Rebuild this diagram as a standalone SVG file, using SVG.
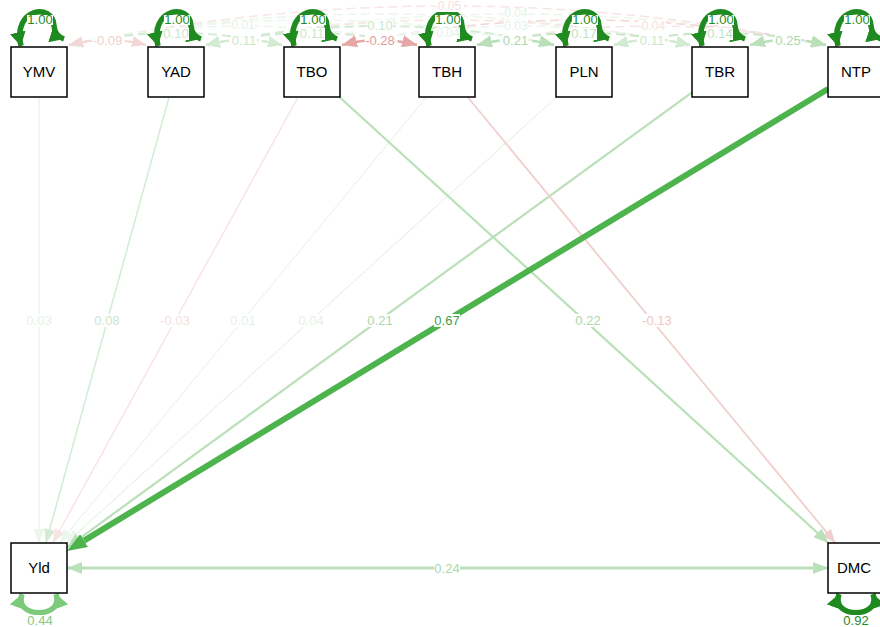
<svg xmlns="http://www.w3.org/2000/svg" width="880" height="627" viewBox="0 0 880 627">
  <style>
    .box{fill:#fff;stroke:#000;stroke-width:1.5}
    .nl{font-family:"Liberation Sans",Arial,sans-serif;font-size:15px;text-anchor:middle;fill:#000}
    .el{font-family:"Liberation Sans",Arial,sans-serif;font-size:13px;text-anchor:middle}
    .sm{font-size:12px}
    .bg{fill:#fff}
    .cov{fill:none;stroke-dasharray:9 5}
    .dir{fill:none}
    .loop{fill:none;stroke-width:5.5}
    .s-dk{stroke:#1f8a1f}.t-dk{fill:#1f8a1f}
    .s-g67{stroke:#4db34d}.t-g67{fill:#3f9f3f}
    .s-g44{stroke:#7dca7d}.t-g44{fill:#86c986}
    .s-g2{stroke:#b9e0b9}.t-g2{fill:#abd7ab}
    .s-g15{stroke:#c6e6c6}.t-g15{fill:#bfe1bf}
    .s-g1{stroke:#d2ebd2}.t-g1{fill:#cbe7cb}
    .s-g0{stroke:#ecf6ec}.t-g0{fill:#e6f2e6}
    .s-r28{stroke:#e8a6a6}.t-r28{fill:#e39c9c}
    .s-r13{stroke:#f1cfcf}.t-r13{fill:#eec6c6}
    .s-r9{stroke:#f3d6d6}.t-r9{fill:#f1d0d0}
    .s-r0{stroke:#f7e4e4}.t-r0{fill:#f5e0e0}
  </style>
  <defs>
    <marker id="a-dk" markerUnits="userSpaceOnUse" markerWidth="14" markerHeight="16" refX="14" refY="8" orient="auto-start-reverse" viewBox="0 0 14 16"><path d="M0,0L14,8L0,16z" fill="#1f8a1f"/></marker>
    <marker id="a-g44" markerUnits="userSpaceOnUse" markerWidth="14" markerHeight="16" refX="14" refY="8" orient="auto-start-reverse" viewBox="0 0 14 16"><path d="M0,0L14,8L0,16z" fill="#7dca7d"/></marker>
    <marker id="a-g67" markerUnits="userSpaceOnUse" markerWidth="20" markerHeight="15" refX="0" refY="7.5" orient="auto" viewBox="0 0 20 15"><path d="M0,0L20,7.5L0,15z" fill="#4db34d"/></marker>
    <marker id="a-g2" markerUnits="userSpaceOnUse" markerWidth="15" markerHeight="12" refX="15" refY="6" orient="auto-start-reverse" viewBox="0 0 15 12"><path d="M0,0L15,6L0,12z" fill="#b9e0b9"/></marker>
    <marker id="a-g15" markerUnits="userSpaceOnUse" markerWidth="14" markerHeight="11" refX="14" refY="5.5" orient="auto-start-reverse" viewBox="0 0 14 11"><path d="M0,0L14,5.5L0,11z" fill="#c6e6c6"/></marker>
    <marker id="a-g1" markerUnits="userSpaceOnUse" markerWidth="14" markerHeight="11" refX="14" refY="5.5" orient="auto-start-reverse" viewBox="0 0 14 11"><path d="M0,0L14,5.5L0,11z" fill="#d2ebd2"/></marker>
    <marker id="a-g0" markerUnits="userSpaceOnUse" markerWidth="14" markerHeight="11" refX="14" refY="5.5" orient="auto-start-reverse" viewBox="0 0 14 11"><path d="M0,0L14,5.5L0,11z" fill="#ecf6ec"/></marker>
    <marker id="a-r28" markerUnits="userSpaceOnUse" markerWidth="15" markerHeight="12" refX="15" refY="6" orient="auto-start-reverse" viewBox="0 0 15 12"><path d="M0,0L15,6L0,12z" fill="#e8a6a6"/></marker>
    <marker id="a-r13" markerUnits="userSpaceOnUse" markerWidth="14" markerHeight="11" refX="14" refY="5.5" orient="auto-start-reverse" viewBox="0 0 14 11"><path d="M0,0L14,5.5L0,11z" fill="#f1cfcf"/></marker>
    <marker id="a-r9" markerUnits="userSpaceOnUse" markerWidth="14" markerHeight="11" refX="14" refY="5.5" orient="auto-start-reverse" viewBox="0 0 14 11"><path d="M0,0L14,5.5L0,11z" fill="#f3d6d6"/></marker>
    <marker id="a-r0" markerUnits="userSpaceOnUse" markerWidth="14" markerHeight="11" refX="14" refY="5.5" orient="auto-start-reverse" viewBox="0 0 14 11"><path d="M0,0L14,5.5L0,11z" fill="#f7e4e4"/></marker>
  </defs>

  <!-- connectors: covariance arcs, regression paths, residual loops -->
  <g id="connectors">
    <!-- covariances among the exogenous variables (dashed, double-headed) -->
    <g id="covariances">
      <path class="cov s-r0" stroke-width="1.5" d="M69,45 Q447.5,-33 826,45" marker-start="url(#a-r0)" marker-end="url(#a-r0)"/>
      <path class="cov s-g0" stroke-width="1.5" d="M69,45 Q379.5,-17 690,45" marker-start="url(#a-g0)" marker-end="url(#a-g0)"/>
      <path class="cov s-g0" stroke-width="1.5" d="M206,45 Q516,-17 826,45" marker-start="url(#a-g0)" marker-end="url(#a-g0)"/>
      <path class="cov s-g0" stroke-width="1.5" d="M69,45 Q311.5,-5 554,45" marker-start="url(#a-g0)" marker-end="url(#a-g0)"/>
      <path class="cov s-r0" stroke-width="1.5" d="M206,45 Q448,-5 690,45" marker-start="url(#a-r0)" marker-end="url(#a-r0)"/>
      <path class="cov s-r9" stroke-width="1.5" d="M342,45 Q584,-5 826,45" marker-start="url(#a-r9)" marker-end="url(#a-r9)"/>
      <path class="cov s-g0" stroke-width="1.5" d="M69,45 Q243,7 417,45" marker-start="url(#a-g0)" marker-end="url(#a-g0)"/>
      <path class="cov s-g1" stroke-width="2" d="M206,45 Q380,7 554,45" marker-start="url(#a-g1)" marker-end="url(#a-g1)"/>
      <path class="cov s-g0" stroke-width="1.5" d="M342,45 Q516,7 690,45" marker-start="url(#a-g0)" marker-end="url(#a-g0)"/>
      <path class="cov s-r0" stroke-width="1.5" d="M477,45 Q651.5,7 826,45" marker-start="url(#a-r0)" marker-end="url(#a-r0)"/>
      <path class="cov s-g1" stroke-width="2" d="M69,45 Q175.5,21 282,45" marker-start="url(#a-g1)" marker-end="url(#a-g1)"/>
      <path class="cov s-g1" stroke-width="2" d="M206,45 Q311.5,21 417,45" marker-start="url(#a-g1)" marker-end="url(#a-g1)"/>
      <path class="cov s-g0" stroke-width="1.5" d="M342,45 Q448,21 554,45" marker-start="url(#a-g0)" marker-end="url(#a-g0)"/>
      <path class="cov s-g15" stroke-width="2" d="M477,45 Q583.5,21 690,45" marker-start="url(#a-g15)" marker-end="url(#a-g15)"/>
      <path class="cov s-g15" stroke-width="2" d="M614,45 Q720,21 826,45" marker-start="url(#a-g15)" marker-end="url(#a-g15)"/>
      <path class="cov s-r9" stroke-width="2" d="M69,45 Q107.5,35 146,45" marker-start="url(#a-r9)" marker-end="url(#a-r9)"/>
      <path class="cov s-g1" stroke-width="2" d="M206,45 Q244,35 282,45" marker-start="url(#a-g1)" marker-end="url(#a-g1)"/>
      <path class="cov s-r28" stroke-width="2.5" d="M342,45 Q379.5,35 417,45" marker-start="url(#a-r28)" marker-end="url(#a-r28)"/>
      <path class="cov s-g2" stroke-width="2.5" d="M477,45 Q515.5,35 554,45" marker-start="url(#a-g2)" marker-end="url(#a-g2)"/>
      <path class="cov s-g1" stroke-width="2" d="M614,45 Q652,35 690,45" marker-start="url(#a-g1)" marker-end="url(#a-g1)"/>
      <path class="cov s-g2" stroke-width="2.5" d="M750,45 Q788,35 826,45" marker-start="url(#a-g2)" marker-end="url(#a-g2)"/>
    </g>

    <!-- regressions onto Yld and DMC -->
    <g id="paths">
      <path class="dir s-g0" stroke-width="1.5" d="M39,97 L39,543" marker-end="url(#a-g0)"/>
      <path class="dir s-g1" stroke-width="1.5" d="M169.1,97 L45.9,543" marker-end="url(#a-g1)"/>
      <path class="dir s-r0" stroke-width="1.5" d="M298.2,97 L52.8,543" marker-end="url(#a-r0)"/>
      <path class="dir s-g0" stroke-width="1.2" d="M426.4,97 L59.6,543" marker-end="url(#a-g0)"/>
      <path class="dir s-g0" stroke-width="1.5" d="M556.5,97 L66.5,543" marker-end="url(#a-g0)"/>
      <path class="dir s-g2" stroke-width="2.2" d="M692,92.4 L67,547.6" marker-end="url(#a-g2)"/>
      <path class="dir s-r13" stroke-width="1.8" d="M467.6,97 L835.4,543" marker-end="url(#a-r13)"/>
      <path class="dir s-g2" stroke-width="2.2" d="M339.4,97 L828.6,543" marker-end="url(#a-g2)"/>
      <path class="dir s-g67" stroke-width="6" d="M828,89 L84.1,540.6" marker-end="url(#a-g67)"/>
      <path class="dir s-g2" stroke-width="3" d="M67,568 L828,568" marker-start="url(#a-g2)" marker-end="url(#a-g2)"/>
    </g>

    <!-- residual variance loops -->
    <g id="loops">
      <path class="loop s-dk" d="M21,46 C12,8 53,2 54,26 Q55,36 64,39" marker-start="url(#a-dk)" marker-end="url(#a-dk)"/>
      <path class="loop s-dk" d="M158,46 C149,8 190,2 191,26 Q192,36 201,39" marker-start="url(#a-dk)" marker-end="url(#a-dk)"/>
      <path class="loop s-dk" d="M294,46 C285,8 326,2 327,26 Q328,36 337,39" marker-start="url(#a-dk)" marker-end="url(#a-dk)"/>
      <path class="loop s-dk" d="M429,46 C420,8 461,2 462,26 Q463,36 472,39" marker-start="url(#a-dk)" marker-end="url(#a-dk)"/>
      <path class="loop s-dk" d="M566,46 C557,8 598,2 599,26 Q600,36 609,39" marker-start="url(#a-dk)" marker-end="url(#a-dk)"/>
      <path class="loop s-dk" d="M702,46 C693,8 734,2 735,26 Q736,36 745,39" marker-start="url(#a-dk)" marker-end="url(#a-dk)"/>
      <path class="loop s-dk" d="M838,46 C829,8 870,2 871,26 Q872,36 881,39" marker-start="url(#a-dk)" marker-end="url(#a-dk)"/>
      <path class="loop s-g44" d="M22,594 C13,619 65,619 56,594" marker-start="url(#a-g44)" marker-end="url(#a-g44)"/>
      <path class="loop s-dk" d="M839,594 C830,619 882,619 873,594" marker-start="url(#a-dk)" marker-end="url(#a-dk)"/>
    </g>

    <!-- edge labels -->
    <g id="labels">
      <rect class="bg" x="434" y="0" width="30" height="12"/><text class="el sm t-r0" x="447.5" y="10">-0.05</text>
      <rect class="bg" x="504" y="8" width="24" height="11"/><text class="el sm t-g0" x="516" y="17">0.04</text>
      <rect class="bg" x="231" y="20" width="24" height="11"/><text class="el sm t-g0" x="243" y="29">0.01</text>
      <rect class="bg" x="367" y="20" width="26" height="12"/><text class="el t-g1" x="380" y="30">0.10</text>
      <rect class="bg" x="504" y="20" width="24" height="11"/><text class="el sm t-g0" x="516" y="30">0.03</text>
      <rect class="bg" x="638" y="20" width="28" height="11"/><text class="el sm t-r0" x="651.5" y="30">-0.04</text>
      <rect class="bg" x="163" y="28" width="26" height="12"/><text class="el t-g1" x="176" y="38">0.10</text>
      <rect class="bg" x="299" y="28" width="26" height="12"/><text class="el t-g1" x="312" y="38">0.11</text>
      <rect class="bg" x="436" y="28" width="24" height="11"/><text class="el sm t-g0" x="448" y="37">0.04</text>
      <rect class="bg" x="571" y="28" width="26" height="12"/><text class="el t-g15" x="584" y="38">0.17</text>
      <rect class="bg" x="707" y="28" width="26" height="12"/><text class="el t-g15" x="720" y="38">0.14</text>
      <rect class="bg" x="92" y="35" width="30" height="12"/><text class="el t-r9" x="107.5" y="45">-0.09</text>
      <rect class="bg" x="231" y="35" width="26" height="12"/><text class="el t-g1" x="244" y="45">0.11</text>
      <rect class="bg" x="365" y="35" width="30" height="12"/><text class="el t-r28" x="380" y="45">-0.28</text>
      <rect class="bg" x="502" y="35" width="26" height="12"/><text class="el t-g2" x="515.5" y="45">0.21</text>
      <rect class="bg" x="639" y="35" width="26" height="12"/><text class="el t-g1" x="652" y="45">0.11</text>
      <rect class="bg" x="775" y="35" width="26" height="12"/><text class="el t-g2" x="788" y="45">0.25</text>

      <rect class="bg" x="26" y="314" width="26" height="13"/><text class="el t-g0" x="39" y="325">0.03</text>
      <rect class="bg" x="94" y="314" width="26" height="13"/><text class="el t-g1" x="107" y="325">0.08</text>
      <rect class="bg" x="160" y="314" width="30" height="13"/><text class="el t-r0" x="175" y="325">-0.03</text>
      <rect class="bg" x="230" y="314" width="26" height="13"/><text class="el t-g0" x="243" y="325">0.01</text>
      <rect class="bg" x="298" y="314" width="26" height="13"/><text class="el t-g0" x="311" y="325">0.04</text>
      <rect class="bg" x="367" y="314" width="26" height="13"/><text class="el t-g2" x="380" y="325">0.21</text>
      <rect class="bg" x="434" y="314" width="26" height="13"/><text class="el t-g67" x="447" y="325">0.67</text>
      <rect class="bg" x="575" y="314" width="26" height="13"/><text class="el t-g2" x="588" y="325">0.22</text>
      <rect class="bg" x="642" y="314" width="30" height="13"/><text class="el t-r13" x="657" y="325">-0.13</text>
      <rect class="bg" x="434" y="562" width="26" height="13"/><text class="el t-g2" x="447" y="573">0.24</text>

      <rect class="bg" x="27" y="15" width="26" height="10"/><text class="el t-dk" x="40" y="24">1.00</text>
      <rect class="bg" x="164" y="15" width="26" height="10"/><text class="el t-dk" x="177" y="24">1.00</text>
      <rect class="bg" x="300" y="15" width="26" height="10"/><text class="el t-dk" x="313" y="24">1.00</text>
      <rect class="bg" x="435" y="15" width="26" height="10"/><text class="el t-dk" x="448" y="24">1.00</text>
      <rect class="bg" x="572" y="15" width="26" height="10"/><text class="el t-dk" x="585" y="24">1.00</text>
      <rect class="bg" x="708" y="15" width="26" height="10"/><text class="el t-dk" x="721" y="24">1.00</text>
      <rect class="bg" x="844" y="15" width="26" height="10"/><text class="el t-dk" x="857" y="24">1.00</text>
      <rect class="bg" x="27" y="615" width="26" height="12"/><text class="el t-g44" x="40" y="625">0.44</text>
      <rect class="bg" x="843" y="615" width="26" height="12"/><text class="el t-dk" x="856" y="625">0.92</text>
    </g>
  </g>

  <!-- observed variables -->
  <g id="YMV"><rect class="box" x="11" y="47" width="56" height="50"/><text class="nl" x="39" y="77">YMV</text></g>
  <g id="YAD"><rect class="box" x="148" y="47" width="56" height="50"/><text class="nl" x="176" y="77">YAD</text></g>
  <g id="TBO"><rect class="box" x="284" y="47" width="56" height="50"/><text class="nl" x="312" y="77">TBO</text></g>
  <g id="TBH"><rect class="box" x="419" y="47" width="56" height="50"/><text class="nl" x="447" y="77">TBH</text></g>
  <g id="PLN"><rect class="box" x="556" y="47" width="56" height="50"/><text class="nl" x="584" y="77">PLN</text></g>
  <g id="TBR"><rect class="box" x="692" y="47" width="56" height="50"/><text class="nl" x="720" y="77">TBR</text></g>
  <g id="NTP"><rect class="box" x="828" y="47" width="56" height="50"/><text class="nl" x="856" y="77">NTP</text></g>
  <g id="Yld"><rect class="box" x="11" y="543" width="56" height="50"/><text class="nl" x="39" y="573">Yld</text></g>
  <g id="DMC"><rect class="box" x="828" y="543" width="56" height="50"/><text class="nl" x="854" y="573">DMC</text></g>
</svg>
